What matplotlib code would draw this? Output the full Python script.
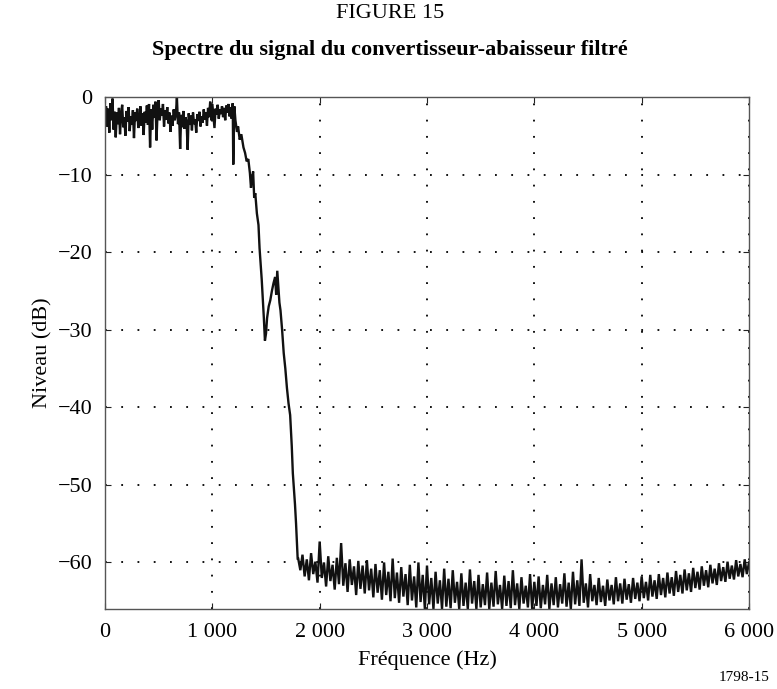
import numpy as np
import matplotlib.pyplot as plt

plt.rcParams['font.family'] = ['Liberation Serif', 'DejaVu Serif']

# passband, 0 .. 1190 Hz every 10 Hz
pass_freq = np.arange(0, 1200, 10)
pass_level = [
    -2.5, -1.2, -3.8, -1.5, -4.6, -0.8, -3.0, -0.2, -4.2, -1.9,
    -5.2, -2.0, -3.5, -1.4, -4.8, -2.2, -1.0, -3.9, -2.6, -5.0,
    -1.8, -3.2, -1.3, -4.4, -2.5, -3.6, -1.7, -5.3, -2.0, -3.1,
    -1.5, -4.0, -2.8, -1.2, -3.7, -2.1, -4.9, -1.9, -3.3, -1.1,
    -3.6, -0.9, -6.5, -1.6, -4.2, -1.0, -2.7, -0.6, -5.6, -1.8,
    -0.4, -3.0, -1.5, -2.4, -0.9, -3.8, -1.7, -2.9, -1.3, -3.4,
    -2.0, -4.5, -2.4, -3.7, -1.6, -3.0, -2.2, -0.1, -3.5, -2.0,
    -6.7, -2.3, -3.9, -1.8, -4.1, -2.6, -3.2, -6.8, -2.1, -3.6,
    -2.4, -4.3, -2.0, -3.5, -2.9, -4.6, -2.2, -3.1, -1.9, -3.8,
    -2.5, -3.3, -1.6, -2.9, -2.0, -3.7, -1.4, -2.6, -0.6, -3.0,
    -0.9, -2.4, -4.0, -1.5, -2.3, -1.0, -2.8, -1.6, -2.2, -1.2,
    -2.6, -1.4, -3.0, -1.1, -2.0, -0.9, -2.5, -1.3, -2.8, -0.8,
]

# roll-off
trans_freq = [1195, 1205, 1215, 1230, 1240, 1255, 1270, 1290, 1305, 1320,
              1335, 1350, 1360, 1370, 1380, 1390, 1400, 1415, 1430, 1440,
              1450, 1460, 1470, 1480, 1490, 1500, 1510, 1525, 1540, 1555,
              1570, 1585, 1595, 1605, 1615, 1625, 1635, 1650, 1665, 1680,
              1695, 1710, 1725, 1740, 1750, 1760, 1770, 1780, 1790, 1795]
trans_level = [-8.7, -1.2, -3.0, -4.5, -3.8, -5.5, -4.8, -6.5, -7.2, -8.3,
               -8.0, -9.8, -11.7, -10.5, -9.6, -13.0, -12.4, -15.0, -16.5, -19.5,
               -21.5, -23.5, -26.0, -28.5, -31.4, -30.5, -28.5, -27.0, -26.2, -25.0,
               -24.0, -23.2, -25.5, -22.4, -24.5, -26.5, -27.5, -30.0, -33.0, -35.0,
               -37.5, -39.5, -41.0, -45.0, -48.5, -50.5, -52.5, -55.0, -58.0, -59.5]

# stopband floor, 1800 .. 6000 Hz every 20 Hz
stop_freq = np.arange(1800, 6001, 20)
stop_level = [
    -59.5, -61.0, -59.0, -61.8, -59.6, -62.3, -58.8, -61.5, -59.9, -62.6,
    -57.3, -62.0, -60.0, -63.1, -59.2, -62.4, -60.3, -63.5, -59.4, -62.8,
    -57.5, -63.0, -60.1, -63.8, -59.6, -62.9, -60.5, -64.2, -59.8, -63.4,
    -60.4, -64.0, -59.7, -63.6, -60.8, -64.5, -60.2, -63.9, -61.0, -64.8,
    -60.0, -64.2, -61.2, -65.0, -59.5, -64.6, -61.3, -65.2, -60.6, -64.4,
    -61.5, -65.5, -60.3, -64.9, -61.8, -65.8, -60.0, -65.1, -61.6, -66.0,
    -60.4, -65.4, -62.0, -66.0, -61.2, -65.3, -62.3, -66.0, -60.8, -65.7,
    -62.1, -65.9, -61.0, -65.2, -62.5, -66.0, -61.4, -65.6, -62.6, -66.0,
    -60.9, -65.3, -62.4, -66.0, -61.6, -65.8, -62.8, -65.5, -61.3, -66.0,
    -62.6, -65.7, -61.1, -65.4, -62.9, -66.0, -61.7, -65.6, -62.4, -65.9,
    -61.0, -65.5, -62.7, -66.0, -61.9, -65.3, -63.0, -65.8, -61.5, -66.0,
    -62.5, -65.6, -61.8, -65.9, -62.9, -65.4, -61.6, -66.0, -62.7, -65.5,
    -61.9, -65.8, -62.8, -65.3, -61.4, -65.7, -62.6, -66.0, -61.2, -65.4,
    -62.3, -65.6, -59.6, -65.2, -62.7, -65.8, -61.5, -65.0, -62.9, -65.5,
    -62.0, -65.1, -63.0, -65.6, -62.2, -64.9, -62.9, -65.4, -61.9, -65.0,
    -62.7, -65.3, -62.1, -64.8, -62.8, -65.2, -62.0, -64.7, -62.6, -65.0,
    -61.8, -64.6, -62.5, -64.9, -61.6, -64.4, -62.3, -64.7, -61.5, -64.2,
    -62.0, -64.5, -61.3, -64.0, -61.9, -64.3, -61.1, -63.8, -61.6, -64.0,
    -60.9, -63.6, -61.4, -63.8, -60.7, -63.3, -61.2, -63.5, -60.5, -63.0,
    -61.0, -63.2, -60.3, -62.7, -60.8, -62.9, -60.1, -62.4, -60.6, -62.5,
    -59.9, -62.1, -60.4, -62.2, -59.7, -61.8, -60.2, -61.9, -59.6, -61.5,
    -60.0,
]

x_ticks = [0, 1000, 2000, 3000, 4000, 5000, 6000]
x_labels = ['0', '1 000', '2 000', '3 000', '4 000', '5 000', '6 000']
y_ticks = [0, -10, -20, -30, -40, -50, -60]
y_labels = ['0', '\u221210', '\u221220', '\u221230', '\u221240', '\u221250', '\u221260']

freq = np.concatenate([pass_freq, trans_freq, stop_freq])
level = np.concatenate([pass_level, trans_level, stop_level])

fig = plt.figure(figsize=(7.77, 6.89), dpi=100)
ax = fig.add_axes([105 / 777, 1 - 609 / 689, 644 / 777, 512 / 689])

ax.plot(freq, level, color='#111111', lw=1.7, solid_joinstyle='miter')

ax.set_xlim(0, 6000)
ax.set_ylim(-66, 0)
ax.set_xticks(x_ticks, x_labels)
ax.set_yticks(y_ticks, y_labels)
ax.tick_params(direction='in', top=True, right=True, length=4, labelsize=16, color='#222222')
ax.tick_params(axis='y', pad=9)
ax.tick_params(axis='x', pad=10)
ax.grid(True, color='black', linestyle=(0, (1, 8)), linewidth=1.3)
for s in ax.spines.values():
    s.set_color('#555555')
    s.set_linewidth(1.0)

ax.set_xlabel('Fréquence (Hz)', fontsize=16, labelpad=6)
ax.set_ylabel('Niveau (dB)', fontsize=16, labelpad=4)

fig.text(0.502, 0.981, 'FIGURE 15', ha='center', va='center', fontsize=16)
fig.text(0.502, 0.927, 'Spectre du signal du convertisseur-abaisseur filtré',
         ha='center', va='center', fontsize=16, fontweight='bold')
fig.text(0.958, 0.016, '1798-15', ha='center', va='center', fontsize=11)

fig.savefig('out.png', dpi=100)
